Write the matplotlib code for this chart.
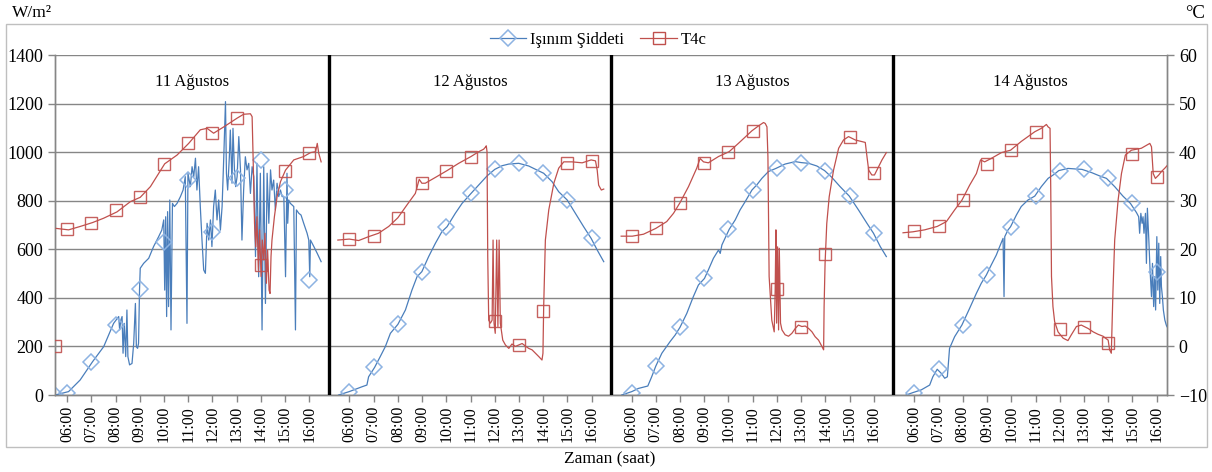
import matplotlib
matplotlib.use("Agg")
import matplotlib.pyplot as plt
from matplotlib.lines import Line2D
from matplotlib.patches import Rectangle

plt.rcParams['font.family'] = ['Liberation Serif', 'DejaVu Serif']

# ---------------- data ----------------
days = ["11 Ağustos", "12 Ağustos", "13 Ağustos", "14 Ağustos"]
day_start = [5.50, 5.17, 5.15, 5.12]   # hours shown at the left edge of each panel
day_end = [16.83, 16.80, 16.80, 16.43]  # hours shown at the right edge of each panel
hours = [6, 7, 8, 9, 10, 11, 12, 13, 14, 15, 16]
hour_labels = ["%02d:00" % h for h in hours]

# Işınım Şiddeti (W/m2) -- line samples
rad_t1 = [5.51, 6.06, 6.54, 7.05, 7.51, 7.92, 8.13, 8.17, 8.22, 8.27, 8.31, 8.36, 8.42, 8.47, 8.51, 8.58,
          8.68, 8.75, 8.82, 8.86, 8.91, 8.95, 8.99, 9.02, 9.16, 9.37, 9.57, 9.78, 9.91, 9.99, 10.03, 10.07,
          10.11, 10.15, 10.19, 10.24, 10.29, 10.35, 10.43, 10.54, 10.68, 10.79, 10.88, 10.95, 10.99, 11.09,
          11.16, 11.23, 11.30, 11.36, 11.43, 11.50, 11.57, 11.64, 11.71, 11.78, 11.85, 11.92, 11.98, 12.05,
          12.12, 12.19, 12.26, 12.33, 12.40, 12.47, 12.54, 12.58, 12.63, 12.70, 12.74, 12.81, 12.85, 12.91,
          12.96, 13.02, 13.09, 13.16, 13.22, 13.29, 13.36, 13.43, 13.50, 13.57, 13.64, 13.71, 13.78, 13.84,
          13.91, 13.98, 14.05, 14.12, 14.19, 14.26, 14.33, 14.40, 14.46, 14.53, 14.60, 14.67, 14.74, 14.81,
          14.88, 14.95, 15.02, 15.08, 15.11, 15.15, 15.22, 15.36, 15.43, 15.47, 15.57, 15.66, 15.77, 15.91,
          15.98, 16.02, 16.05, 16.19, 16.33, 16.49]
rad_v1 = [0, 14, 62, 137, 199, 295, 323, 268, 309, 323, 172, 295, 158, 350, 158, 124,
          130, 213, 377, 199, 192, 213, 432, 522, 542, 563, 611, 652, 679, 721, 432, 734,
          323, 755, 364, 803, 268, 789, 776, 789, 817, 844, 899, 295, 913, 858,
          940, 899, 975, 844, 940, 776, 638, 515, 501, 707, 638, 721, 611, 776,
          844, 721, 803, 679, 776, 981, 1208, 913, 844, 981, 1091, 872, 1098, 927,
          858, 899, 1064, 927, 638, 844, 981, 927, 954, 830, 940, 899, 570, 954,
          487, 913, 268, 940, 377, 913, 707, 927, 844, 885, 762, 872, 817, 844,
          817, 817, 487, 913, 707, 803, 789, 776, 268, 762, 748, 741, 707, 666,
          638, 487, 638, 611, 583, 549]
rad_t2 = [5.55, 5.99, 6.52, 6.72, 6.79, 7.04, 7.27, 7.48, 7.69, 8.00, 8.31, 8.58, 8.79, 8.99, 9.27, 9.55,
          9.82, 10.03, 10.37, 10.65, 11.02, 11.34, 11.68, 12.00, 12.30, 12.58, 12.99, 13.40, 13.75, 14.02,
          14.37, 14.64, 14.99, 15.33, 15.67, 15.98, 16.23, 16.50]
rad_v2 = [0, 14, 34, 41, 75, 114, 158, 199, 254, 291, 350, 432, 487, 508, 570, 625,
          673, 693, 748, 789, 830, 865, 902, 929, 944, 951, 954, 943, 926, 913,
          878, 837, 803, 748, 693, 645, 597, 549]
rad_t3 = [5.59, 6.01, 6.28, 6.67, 6.83, 7.00, 7.25, 7.59, 7.80, 8.00, 8.28, 8.55, 8.76, 9.01, 9.17, 9.38,
          9.59, 9.66, 9.73, 10.03, 10.28, 10.48, 10.69, 10.97, 11.17, 11.38, 11.65, 11.96, 12.34, 12.76,
          13.00, 13.31, 13.65, 13.97, 14.27, 14.61, 14.99, 15.37, 15.72, 15.99, 16.27, 16.52]
rad_v3 = [0, 14, 27, 37, 75, 119, 172, 220, 247, 279, 336, 405, 453, 480, 515, 563,
          597, 583, 618, 682, 721, 762, 796, 844, 865, 892, 920, 933, 951, 961,
          957, 954, 943, 924, 896, 858, 819, 762, 707, 666, 611, 570]
rad_t4 = [5.66, 5.94, 6.28, 6.63, 6.76, 6.94, 7.11, 7.25, 7.36, 7.45, 7.66, 7.96, 8.28, 8.56, 8.76, 8.97,
          9.17, 9.38, 9.52, 9.66, 9.70, 9.73, 9.86, 9.97, 10.21, 10.41, 10.69, 10.97, 11.24, 11.52, 11.79,
          11.96, 12.34, 12.62, 12.92, 13.31, 13.65, 13.93, 14.27, 14.61, 14.92, 15.17, 15.26, 15.30, 15.35,
          15.40, 15.44, 15.48, 15.54, 15.58, 15.62, 15.68, 15.73, 15.79, 15.83, 15.88, 15.92, 15.96, 16.01,
          16.05, 16.09, 16.13, 16.17, 16.20, 16.24, 16.28, 16.34, 16.40, 16.43]
rad_v4 = [0, 10, 21, 41, 75, 106, 89, 69, 75, 192, 240, 288, 357, 419, 460, 494,
          535, 576, 611, 645, 405, 652, 679, 693, 741, 776, 803, 819, 858, 892, 910,
          924, 933, 931, 929, 916, 902, 892, 858, 819, 789, 751, 734, 666, 748,
          707, 734, 666, 748, 542, 769, 638, 515, 405, 542, 364, 487, 350, 652,
          432, 625, 377, 570, 446, 405, 350, 309, 288, 281]

# T4c (°C) -- line samples
tmp_t1 = [5.55, 6.06, 6.54, 7.05, 7.51, 8.06, 8.61, 9.02, 9.44, 10.03, 10.54, 11.02, 11.50, 11.78, 12.05,
          12.47, 13.02, 13.29, 13.57, 13.64, 13.68, 13.74, 13.79, 13.84, 13.90, 13.95, 14.01, 14.06, 14.12,
          14.17, 14.23, 14.28, 14.34, 14.38, 14.42, 14.46, 14.56, 14.67, 14.81, 15.02, 15.36, 15.77, 16.05,
          16.26, 16.33, 16.39, 16.49]
tmp_v1 = [24.3, 24.0, 24.7, 25.5, 26.4, 27.7, 29.8, 30.7, 32.9, 37.6, 39.4, 41.8, 44.6, 44.9, 43.9,
          45.2, 47.0, 47.8, 47.9, 47.3, 39.1, 25.3, 20.5, 26.7, 15.7, 24.0, 14.4, 21.9, 17.8,
          23.3, 13.0, 19.9, 11.6, 10.9, 18.5, 21.9, 26.7, 30.8, 33.9, 36.3, 38.4, 39.1, 39.9,
          40.1, 41.8, 39.8, 38.0]
tmp_t2 = [5.52, 5.99, 6.38, 6.79, 7.20, 7.62, 8.00, 8.37, 8.72, 8.88, 8.99, 9.13, 9.55, 10.03, 10.51,
          11.02, 11.34, 11.54, 11.61, 11.65, 11.68, 11.71, 11.75, 11.82, 11.89, 11.93, 11.97, 12.02, 12.08,
          12.13, 12.18, 12.23, 12.33, 12.44, 12.58, 12.71, 12.85, 12.99, 13.13, 13.26, 13.40, 13.54, 13.68,
          13.82, 13.95, 13.99, 14.02, 14.09, 14.23, 14.44, 14.64, 14.85, 15.19, 15.61, 15.98, 16.16, 16.23,
          16.29, 16.40, 16.50]
tmp_v2 = [21.9, 22.1, 21.8, 22.6, 23.3, 24.7, 26.5, 29.1, 31.5, 34.4, 33.6, 33.6, 34.8, 36.2, 37.7,
          39.1, 40.1, 40.6, 41.0, 41.3, 40.1, 18.5, 5.4, 4.8, 5.4, 21.9, 4.8, 2.7, 21.9,
          4.1, 21.9, 4.8, 1.3, 0.3, -0.4, 0.5, 0.0, 0.3, 0.6, 0.1, -0.4, -0.7, -1.4,
          -2.1, -2.8, -1.4, 8.2, 21.9, 28.1, 33.6, 36.7, 38.0, 38.0, 37.8, 38.4, 38.2, 36.3,
          33.2, 32.2, 32.4]
tmp_t3 = [5.57, 6.03, 6.49, 7.00, 7.45, 7.73, 8.00, 8.35, 8.69, 8.83, 8.97, 9.17, 9.59, 10.03, 10.41,
          10.97, 11.24, 11.45, 11.52, 11.59, 11.63, 11.68, 11.79, 11.89, 11.93, 11.96, 11.99, 12.03, 12.07,
          12.10, 12.15, 12.21, 12.34, 12.48, 12.62, 12.76, 12.89, 13.03, 13.17, 13.31, 13.45, 13.58, 13.72,
          13.86, 13.93, 13.95, 13.99, 14.06, 14.16, 14.34, 14.55, 14.75, 14.96, 15.24, 15.65, 15.72, 15.79,
          15.92, 16.03, 16.13, 16.34, 16.52]
tmp_v3 = [22.7, 22.7, 23.1, 24.3, 25.7, 27.4, 29.6, 32.9, 36.7, 38.7, 38.0, 37.8, 39.1, 40.1, 41.8,
          44.4, 45.4, 46.1, 45.9, 45.2, 39.1, 14.4, 5.4, 3.0, 11.6, 24.0, 4.8, 20.5, 3.4,
          20.2, 4.8, 3.4, 2.4, 2.1, 2.7, 3.7, 4.4, 4.1, 4.2, 3.7, 3.0, 2.0, 1.3,
          0.0, -0.7, 8.2, 17.1, 25.3, 30.8, 36.3, 40.8, 42.5, 43.2, 42.5, 42.0, 39.1, 36.3,
          35.3, 35.3, 36.3, 38.4, 39.9]
tmp_t4 = [5.53, 5.94, 6.42, 6.94, 7.32, 7.66, 7.96, 8.28, 8.56, 8.73, 8.90, 9.17, 9.59, 9.97, 10.41,
          10.97, 11.24, 11.45, 11.52, 11.60, 11.63, 11.66, 11.72, 11.79, 11.93, 12.14, 12.34, 12.48, 12.69,
          12.89, 13.17, 13.38, 13.58, 13.79, 13.89, 14.00, 14.06, 14.13, 14.20, 14.27, 14.41, 14.55, 14.71,
          14.96, 15.37, 15.72, 15.79, 15.86, 15.95, 16.09, 16.20, 16.34, 16.43]
tmp_v4 = [23.4, 23.6, 24.0, 24.7, 25.7, 28.1, 30.1, 33.2, 35.6, 38.4, 38.0, 38.7, 39.9, 40.4, 42.2,
          44.2, 44.9, 45.7, 45.2, 44.9, 32.2, 14.4, 8.2, 5.1, 3.0, 1.7, 1.2, 2.4, 4.1,
          4.4, 3.7, 3.0, 2.5, 2.1, 1.7, 1.3, -0.7, -1.4, 11.6, 21.9, 30.1, 35.6, 39.4,
          40.4, 40.8, 41.8, 41.1, 35.6, 34.6, 35.3, 36.0, 36.7, 37.2]

# hourly marker values
mark_t1 = [5.5] + hours
rad_m1 = [0, 7, 137, 288, 435, 631, 885, 673, 892, 968, 844, 474]
tmp_m1 = [0, 24.1, 25.5, 28.0, 30.7, 37.6, 41.8, 44.0, 47.0, 16.8, 36.2, 39.9]
rad_m2 = [14, 114, 291, 508, 693, 830, 929, 954, 913, 803, 645]
tmp_m2 = [22.1, 22.7, 26.5, 33.6, 36.2, 39.1, 5.2, 0.2, 7.2, 37.8, 38.2]
rad_m3 = [10, 119, 279, 480, 682, 844, 933, 957, 924, 819, 666]
tmp_m3 = [22.7, 24.3, 29.6, 37.8, 40.1, 44.4, 11.8, 4.1, 19.0, 43.2, 35.8]
rad_m4 = [7, 106, 288, 494, 693, 819, 924, 929, 892, 789, 508]
tmp_m4 = [23.8, 24.7, 30.1, 37.6, 40.4, 44.2, 3.5, 4.1, 0.8, 39.6, 34.8]

rad_lines = [(rad_t1, rad_v1), (rad_t2, rad_v2), (rad_t3, rad_v3), (rad_t4, rad_v4)]
tmp_lines = [(tmp_t1, tmp_v1), (tmp_t2, tmp_v2), (tmp_t3, tmp_v3), (tmp_t4, tmp_v4)]
mark_times = [mark_t1, hours, hours, hours]
rad_marks = [rad_m1, rad_m2, rad_m3, rad_m4]
tmp_marks = [tmp_m1, tmp_m2, tmp_m3, tmp_m4]

# ---------------- style ----------------
BLUE = '#4a7ebb'
BLUE_M = '#8db3e2'
RED = '#c0504d'
GRID = '#868686'

W, H = 1212, 472
fig = plt.figure(figsize=(W / 100, H / 100), dpi=100)
ax = fig.add_axes([55 / W, 1 - 395 / H, 1112 / W, 340 / H])
ax2 = ax.twinx()

offsets = []
acc = 0.0
for s, e in zip(day_start, day_end):
    offsets.append(acc)
    acc += e - s
total = acc


def xpos(k, t):
    return [offsets[k] + (v - day_start[k]) for v in t]


for k in range(4):
    t, v = rad_lines[k]
    ax.plot(xpos(k, t), v, color=BLUE, lw=0.9, zorder=3)
    ax.plot(xpos(k, mark_times[k]), rad_marks[k], ls='none', marker='D', ms=7.8,
            mfc='none', mec=BLUE_M, mew=1.1, zorder=4)
    t, v = tmp_lines[k]
    ax2.plot(xpos(k, t), v, color=RED, lw=0.9, zorder=3)
    ax2.plot(xpos(k, mark_times[k]), tmp_marks[k], ls='none', marker='s', ms=9,
             mfc='none', mec=RED, mew=1.0, alpha=0.9, zorder=4)
    ax2.text(offsets[k] + (day_end[k] - day_start[k]) / 2, 54.5, days[k],
             ha='center', va='center', fontsize=12)

for k in range(1, 4):
    ax2.axvline(offsets[k], color='black', lw=2.4, zorder=6)

ax.set_xlim(0, total)
ax.set_ylim(0, 1400)
ax2.set_ylim(-10, 60)
ax.set_yticks(range(0, 1401, 200))
ax2.set_yticks(range(-10, 61, 10))

ticks = []
labels = []
for k in range(4):
    ticks += xpos(k, hours)
    labels += hour_labels
ax.set_xticks(ticks)
ax.set_xticklabels(labels, rotation=90, fontsize=11.5)

ax.yaxis.grid(True, color=GRID, lw=1.0)
ax.set_axisbelow(True)

for a in (ax, ax2):
    for side in ('left', 'right', 'bottom'):
        a.spines[side].set_color(GRID)
        a.spines[side].set_linewidth(1.0)
    a.spines['top'].set_visible(False)
    a.tick_params(colors=GRID, labelcolor='black', length=5, width=1.0, labelsize=13)
ax.tick_params(axis='x', labelsize=11.5, pad=3)

# legend
h1 = Line2D([], [], color=BLUE, lw=0.9, marker='D', ms=7.8, mfc='none', mec=BLUE_M, mew=1.1)
h2 = Line2D([], [], color=RED, lw=0.9, marker='s', ms=9, mfc='none', mec=RED, mew=1.0)
fig.legend([h1, h2], ["Işınım Şiddeti", "T4c"], loc='center', bbox_to_anchor=(598 / W, 1 - 40 / H),
           ncol=2, frameon=False, fontsize=12, handlelength=2.2, columnspacing=1.0, handletextpad=0.2)

fig.text(12 / W, 1 - 13 / H, "W/m²", ha='left', va='center', fontsize=12.5)
fig.text(1205 / W, 1 - 13 / H, "°C", ha='right', va='center', fontsize=13.5)
fig.text(610 / W, 1 - 459 / H, "Zaman (saat)", ha='center', va='center', fontsize=12.5)

fig.patches.append(Rectangle((6 / W, 1 - 447 / H), 1201 / W, 423 / H, transform=fig.transFigure,
                             fill=False, ec='#bfbfbf', lw=1.0))

fig.savefig("out.png", dpi=100)
